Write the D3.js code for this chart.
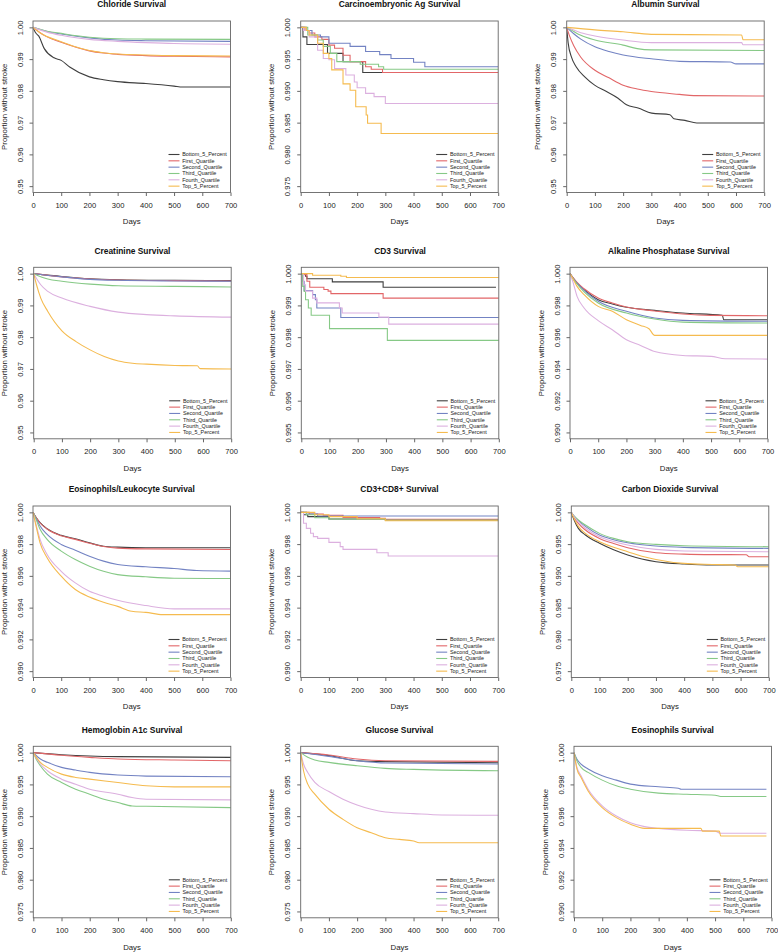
<!DOCTYPE html>
<html><head><meta charset="utf-8">
<script src="https://cdn.jsdelivr.net/npm/d3@7"></script>
<style>body{margin:0;background:#fff}svg{display:block}</style>
</head><body><svg id="c" width="778" height="952"></svg>
<script>
// ---------------- DATA ----------------
const seriesNames = ["Bottom_5_Percent","First_Quartile","Second_Quartile","Third_Quartile","Fourth_Quartile","Top_5_Percent"];
const panelTitles = ["Chloride Survival","Carcinoembryonic Ag Survival","Albumin Survival",
  "Creatinine Survival","CD3 Survival","Alkaline Phosphatase Survival",
  "Eosinophils/Leukocyte Survival","CD3+CD8+ Survival","Carbon Dioxide Survival",
  "Hemoglobin A1c Survival","Glucose Survival","Eosinophils Survival"];
const yDomains = [[0.95,1.00],[0.975,1.000],[0.95,1.00],
  [0.95,1.00],[0.995,1.000],[0.990,1.000],
  [0.990,1.000],[0.990,1.000],[0.975,1.000],
  [0.975,1.000],[0.975,1.000],[0.990,1.000]];
const yTickSteps = [0.01,0.005,0.01, 0.01,0.001,0.002, 0.002,0.002,0.005, 0.005,0.005,0.002];
const yTickDecimals = [2,3,2, 2,3,3, 3,3,3, 3,3,3];
const xTicks = [0,100,200,300,400,500,600,700];
const stepPanels = [false,true,false, false,true,false, false,true,false, false,false,false];

const chloride = [
 [[0,1],[5,0.9990],[10,0.9982],[20,0.9973],[40,0.9933],[75,0.9904],[100,0.9896],[130,0.9875],[200,0.9844],[250,0.9835],[300,0.9829],[400,0.9823],[500,0.9815],[530,0.9812],[700,0.9812]],
 [[0,1],[10,0.9993],[25,0.9983],[50,0.9970],[100,0.9953],[150,0.9938],[200,0.9926],[250,0.9919],[300,0.9915],[400,0.9911],[500,0.9909],[700,0.9907]],
 [[0,1],[25,0.9993],[50,0.9987],[100,0.9979],[200,0.9967],[300,0.9960],[400,0.9958],[700,0.9956]],
 [[0,1],[25,0.9994],[50,0.9988],[100,0.9981],[200,0.9969],[300,0.9964],[400,0.9963],[700,0.9962]],
 [[0,1],[25,0.9992],[50,0.9985],[100,0.9975],[200,0.9962],[300,0.9956],[400,0.9952],[500,0.9949],[700,0.9947]],
 [[0,1],[10,0.9993],[25,0.9983],[50,0.9971],[100,0.9955],[150,0.9939],[200,0.9927],[250,0.9920],[300,0.9916],[400,0.9913],[500,0.9911],[700,0.9910]]
];
const cea = [
 [[0,1],[8,0.9985],[22,0.9973],[95,0.9959],[150,0.9946],[220,0.9929],[700,0.9929]],
 [[0,1],[15,0.9995],[30,0.9991],[50,0.9985],[75,0.9981],[100,0.9972],[120,0.9967],[150,0.9956],[175,0.9946],[230,0.9938],[250,0.9934],[290,0.9929],[700,0.9929]],
 [[0,1],[20,0.9995],[40,0.9988],[70,0.9985],[100,0.9975],[175,0.9970],[230,0.9962],[280,0.9957],[320,0.9951],[400,0.9945],[440,0.9938],[700,0.9938]],
 [[0,1],[25,0.9988],[60,0.9980],[80,0.9970],[105,0.9959],[128,0.9946],[211,0.9942],[276,0.9938],[294,0.9934],[700,0.9934]],
 [[0,1],[10,0.9995],[30,0.9985],[60,0.9964],[80,0.9951],[100,0.9949],[120,0.9935],[160,0.9925],[190,0.9914],[200,0.9905],[230,0.9896],[260,0.9891],[300,0.9880],[700,0.9880]],
 [[0,1],[20,0.9995],[30,0.9988],[60,0.9975],[80,0.9959],[100,0.9951],[110,0.9933],[150,0.9911],[175,0.9901],[195,0.9875],[232,0.9862],[237,0.9849],[285,0.9833],[700,0.9833]]
];
const albumin = [
 [[0,1],[5,0.9952],[17,0.9906],[34,0.9875],[64,0.9844],[99,0.9818],[141,0.9798],[182,0.9777],[212,0.9756],[253,0.9746],[301,0.9730],[366,0.9725],[380,0.9712],[419,0.9707],[461,0.9699],[700,0.9699]],
 [[0,1],[10,0.9973],[25,0.9942],[50,0.9906],[100,0.9865],[150,0.9841],[200,0.9818],[250,0.9806],[300,0.9798],[400,0.9789],[450,0.9785],[700,0.9784]],
 [[0,1],[25,0.9980],[50,0.9963],[100,0.9939],[150,0.9924],[200,0.9913],[300,0.9901],[400,0.9893],[580,0.9891],[600,0.9885],[700,0.9885]],
 [[0,1],[25,0.9987],[50,0.9975],[100,0.9960],[200,0.9944],[250,0.9933],[300,0.9929],[700,0.9927]],
 [[0,1],[50,0.9983],[100,0.9973],[200,0.9960],[300,0.9952],[620,0.9952],[625,0.9945],[700,0.9945]],
 [[0,1],[100,0.9992],[200,0.9986],[300,0.9978],[620,0.9976],[625,0.9961],[700,0.9961]]
];
const creatinine = [
 [[0,1],[100,0.9991],[200,0.9984],[300,0.9981],[500,0.9979],[700,0.9978]],
 [[0,1],[100,0.9990],[200,0.9983],[300,0.9980],[500,0.9978],[700,0.9977]],
 [[0,1],[100,0.9990],[200,0.9982],[300,0.9979],[500,0.9977],[700,0.9976]],
 [[0,1],[50,0.9983],[100,0.9976],[200,0.9967],[300,0.9962],[500,0.9960],[700,0.9958]],
 [[0,1],[10,0.9985],[25,0.9965],[50,0.9944],[100,0.9923],[200,0.9897],[300,0.9879],[400,0.9871],[500,0.9867],[700,0.9863]],
 [[0,1],[10,0.9965],[25,0.9923],[50,0.9881],[100,0.9820],[150,0.9786],[200,0.9760],[250,0.9739],[300,0.9725],[350,0.9718],[400,0.9715],[500,0.9711],[580,0.9710],[590,0.9701],[700,0.9700]]
];
const cd3 = [
 [[0,1],[15,0.99992],[20,0.99984],[110,0.99974],[290,0.99957],[690,0.99957]],
 [[0,1],[10,0.99997],[20,0.99976],[30,0.99957],[80,0.99950],[95,0.99945],[105,0.99937],[290,0.99923],[700,0.99923]],
 [[0,1],[5,0.99976],[10,0.99947],[40,0.99934],[50,0.99918],[55,0.99892],[140,0.99862],[700,0.99862]],
 [[0,1],[5,0.99960],[10,0.99944],[15,0.99918],[25,0.99892],[35,0.99869],[100,0.99827],[305,0.99790],[700,0.99790]],
 [[0,1],[8,0.99965],[15,0.99945],[40,0.99923],[55,0.99908],[135,0.99892],[145,0.99876],[275,0.99863],[310,0.99841],[700,0.99841]],
 [[0,1],[40,0.99995],[140,0.99992],[160,0.99988],[700,0.99988]]
];
const alkPhos = [
 [[0,1],[10,0.99975],[25,0.99941],[50,0.99899],[100,0.99836],[150,0.99809],[200,0.99788],[300,0.99769],[400,0.99752],[540,0.99737],[545,0.99710],[700,0.99710]],
 [[0,1],[10,0.99977],[25,0.99945],[50,0.99905],[100,0.99847],[150,0.99815],[200,0.99790],[300,0.99765],[400,0.99746],[500,0.99737],[700,0.99735]],
 [[0,1],[10,0.99972],[25,0.99940],[50,0.99895],[100,0.99826],[200,0.99763],[300,0.99721],[400,0.99706],[700,0.99700]],
 [[0,1],[10,0.99970],[25,0.99935],[50,0.99885],[100,0.99815],[200,0.99752],[300,0.99714],[400,0.99695],[700,0.99689]],
 [[0,1],[10,0.99950],[25,0.99857],[50,0.99784],[100,0.99704],[150,0.99647],[200,0.99584],[250,0.99548],[300,0.99510],[400,0.99485],[500,0.99479],[550,0.99464],[700,0.99462]],
 [[0,1],[10,0.99970],[25,0.99920],[50,0.99868],[100,0.99794],[150,0.99763],[200,0.99710],[250,0.99674],[280,0.99653],[300,0.99611],[700,0.99611]]
];
const eosLeuk = [
 [[0,1],[10,0.99970],[25,0.99935],[50,0.99897],[100,0.99855],[150,0.99834],[200,0.99808],[250,0.99787],[300,0.99781],[400,0.99777],[700,0.99777]],
 [[0,1],[10,0.99970],[25,0.99933],[50,0.99895],[100,0.99852],[150,0.99830],[200,0.99805],[250,0.99785],[300,0.99775],[400,0.99770],[700,0.99766]],
 [[0,1],[10,0.99965],[25,0.99914],[50,0.99861],[100,0.99798],[150,0.99762],[200,0.99724],[250,0.99693],[300,0.99672],[400,0.99657],[500,0.99646],[580,0.99634],[700,0.99630]],
 [[0,1],[10,0.99960],[25,0.99893],[50,0.99830],[100,0.99756],[150,0.99703],[200,0.99661],[250,0.99629],[300,0.99608],[400,0.99594],[500,0.99585],[700,0.99583]],
 [[0,1],[10,0.99930],[25,0.99830],[50,0.99735],[100,0.99629],[150,0.99556],[200,0.99503],[250,0.99472],[300,0.99446],[400,0.99413],[500,0.99392],[700,0.99392]],
 [[0,1],[10,0.99920],[25,0.99808],[50,0.99714],[100,0.99598],[150,0.99514],[200,0.99467],[250,0.99434],[300,0.99408],[350,0.99377],[400,0.99370],[460,0.99356],[700,0.99356]]
];
const cd3cd8 = [
 [[0,1],[10,0.99985],[25,0.99973],[100,0.99958],[300,0.99952],[700,0.99952]],
 [[0,1],[30,0.99990],[80,0.99982],[150,0.99968],[280,0.99962],[300,0.99956],[700,0.99956]],
 [[0,1],[20,0.99990],[60,0.99977],[700,0.99977]],
 [[0,1],[20,0.99985],[50,0.99966],[100,0.99958],[300,0.99952],[700,0.99952]],
 [[0,1],[10,0.99931],[20,0.99899],[35,0.99868],[45,0.99847],[60,0.99836],[100,0.99811],[140,0.99784],[150,0.99767],[270,0.99746],[310,0.99725],[700,0.99725]],
 [[0,1],[50,0.99985],[100,0.99973],[200,0.99960],[300,0.99947],[700,0.99947]]
];
const co2 = [
 [[0,1],[10,0.99880],[25,0.99748],[50,0.99643],[100,0.99512],[150,0.99410],[200,0.99328],[250,0.99265],[300,0.99223],[400,0.99186],[500,0.99170],[700,0.99170]],
 [[0,1],[10,0.99920],[25,0.99827],[50,0.99722],[100,0.99590],[150,0.99510],[200,0.99443],[300,0.99364],[400,0.99343],[500,0.99335],[620,0.99333],[630,0.99301],[700,0.99301]],
 [[0,1],[10,0.99940],[25,0.99870],[50,0.99780],[100,0.99643],[150,0.99570],[200,0.99522],[300,0.99470],[400,0.99449],[700,0.99433]],
 [[0,1],[10,0.99940],[25,0.99880],[50,0.99800],[100,0.99669],[150,0.99590],[200,0.99538],[300,0.99496],[400,0.99475],[700,0.99459]],
 [[0,1],[10,0.99930],[25,0.99850],[50,0.99750],[100,0.99617],[150,0.99540],[200,0.99485],[300,0.99417],[400,0.99391],[700,0.99380]],
 [[0,1],[10,0.99900],[25,0.99780],[50,0.99670],[100,0.99538],[150,0.99450],[200,0.99380],[250,0.99310],[300,0.99259],[400,0.99196],[500,0.99180],[580,0.99170],[590,0.99144],[700,0.99144]]
];
const hba1c = [
 [[0,1],[100,0.99968],[200,0.99947],[300,0.99937],[700,0.99926]],
 [[0,1],[100,0.99958],[200,0.99926],[300,0.99900],[500,0.99884],[700,0.99873]],
 [[0,1],[25,0.99900],[50,0.99847],[100,0.99768],[150,0.99726],[200,0.99689],[300,0.99647],[400,0.99631],[700,0.99620]],
 [[0,1],[10,0.99900],[25,0.99794],[50,0.99662],[100,0.99531],[150,0.99425],[200,0.99346],[250,0.99267],[300,0.99214],[350,0.99161],[400,0.99156],[700,0.99135]],
 [[0,1],[10,0.99920],[25,0.99821],[50,0.99715],[100,0.99583],[150,0.99504],[200,0.99425],[300,0.99346],[350,0.99293],[400,0.99267],[700,0.99256]],
 [[0,1],[10,0.99930],[25,0.99847],[50,0.99768],[100,0.99662],[150,0.99610],[200,0.99583],[300,0.99531],[400,0.99478],[500,0.99462],[700,0.99462]]
];
const glucose = [
 [[0,1],[100,0.99953],[200,0.99873],[300,0.99858],[700,0.99842]],
 [[0,1],[100,0.99963],[200,0.99900],[300,0.99873],[700,0.99863]],
 [[0,1],[100,0.99942],[200,0.99873],[300,0.99837],[700,0.99821]],
 [[0,1],[25,0.99926],[50,0.99884],[100,0.99847],[200,0.99794],[300,0.99752],[400,0.99736],[500,0.99725],[700,0.99715]],
 [[0,1],[10,0.99821],[25,0.99689],[50,0.99531],[100,0.99388],[150,0.99267],[200,0.99177],[250,0.99109],[300,0.99066],[400,0.99040],[500,0.99019],[700,0.99014]],
 [[0,1],[10,0.99715],[25,0.99504],[50,0.99346],[100,0.99109],[150,0.98950],[200,0.98819],[250,0.98740],[300,0.98660],[350,0.98634],[400,0.98608],[420,0.98581],[700,0.98581]]
];
const eosinophils = [
 [],
 [],
 [[0,1],[10,0.99960],[25,0.99928],[50,0.99897],[100,0.99854],[150,0.99827],[200,0.99802],[300,0.99785],[370,0.99776],[380,0.99770],[682,0.99770]],
 [[0,1],[10,0.99950],[25,0.99907],[50,0.99876],[100,0.99827],[150,0.99791],[200,0.99770],[300,0.99745],[400,0.99738],[500,0.99732],[520,0.99724],[682,0.99724]],
 [[0,1],[10,0.99910],[25,0.99854],[50,0.99770],[100,0.99665],[150,0.99601],[200,0.99559],[250,0.99534],[300,0.99523],[400,0.99511],[500,0.99506],[520,0.99492],[682,0.99492]],
 [[0,1],[10,0.99900],[25,0.99844],[50,0.99759],[100,0.99654],[150,0.99591],[200,0.99549],[250,0.99523],[300,0.99523],[450,0.99523],[455,0.99506],[515,0.99506],[520,0.99475],[682,0.99475]]
];
const panelData = [chloride, cea, albumin, creatinine, cd3, alkPhos, eosLeuk, cd3cd8, co2, hba1c, glucose, eosinophils];

// ---------------- STYLE / LAYOUT ----------------
const colors = ["#3f3f3f","#e26668","#7383c3","#86c986","#dcb0df","#f5bb4f"];
const plotLefts = [33,300.7,566.7, 33.7,301.3,570, 33,300.7,571.3, 33.3,300.7,574];
const rowTops = [21,267.3,506,746.3];
const PW = 197.5, PH = 171.5;
const FONT = "'Liberation Sans', Arial, Helvetica, sans-serif";

const svg = d3.select("#c");
svg.append("rect").attr("width",778).attr("height",952).attr("fill","#fff");

panelData.forEach((series, p) => {
  const left = plotLefts[p], top = rowTops[Math.floor(p/3)];
  const right = left + PW, bottom = top + PH;
  const [y0, y1] = yDomains[p];
  const pad = (y1 - y0) * 0.04;
  const x = d3.scaleLinear().domain([0,700]).range([left, right]);
  const y = d3.scaleLinear().domain([y0 - pad, y1 + pad]).range([bottom, top]);
  const step = yTickSteps[p];
  const nT = Math.round((y1 - y0) / step);
  const yTicks = d3.range(nT + 1).map(i => +(y0 + i*step).toFixed(6));
  const g = svg.append("g");

  const cid = "clip" + p;
  g.append("clipPath").attr("id", cid).append("rect")
    .attr("x", left).attr("y", top).attr("width", PW).attr("height", PH);

  const line = d3.line().x(d => x(d[0])).y(d => y(d[1]))
    .curve(stepPanels[p] ? d3.curveStepAfter : d3.curveMonotoneX);
  const lg = g.append("g").attr("clip-path", `url(#${cid})`);
  series.forEach((s, i) => {
    if (!s.length) return;
    lg.append("path").attr("d", line(s)).attr("fill","none")
      .attr("stroke", colors[i]).attr("stroke-width", 1.1);
  });

  g.append("rect").attr("x", left).attr("y", top).attr("width", PW).attr("height", PH)
    .attr("fill","none").attr("stroke","#666").attr("stroke-width",0.9);

  const xa = g.append("g").attr("transform", `translate(0,${bottom})`)
    .call(d3.axisBottom(x).tickValues(xTicks).tickSize(3.5).tickPadding(2).tickFormat(d3.format("d")));
  xa.select(".domain").remove();
  xa.selectAll("line").attr("stroke","#666");
  xa.selectAll("text").attr("font-family", FONT).attr("font-size", 7.6).attr("fill","#222")
    .attr("y", 13).attr("dy","0.35em");

  const ya = g.append("g").attr("transform", `translate(${left},0)`)
    .call(d3.axisLeft(y).tickValues(yTicks).tickSize(3.5).tickFormat(d3.format("." + yTickDecimals[p] + "f")));
  ya.select(".domain").remove();
  ya.selectAll("line").attr("stroke","#666");
  ya.selectAll("text").attr("font-family", FONT).attr("font-size", 7.6).attr("fill","#222")
    .attr("x", 0).attr("y", -13).attr("dy","0.35em")
    .attr("transform","rotate(-90)").attr("text-anchor","middle");

  g.append("text").attr("x", (left+right)/2).attr("y", top - 16.5).attr("dy","0.35em")
    .attr("text-anchor","middle").attr("font-family", FONT).attr("font-weight","bold")
    .attr("font-size", 8.4).attr("fill","#111").text(panelTitles[p]);

  g.append("text").attr("x", (left+right)/2).attr("y", bottom + 29).attr("dy","0.35em")
    .attr("text-anchor","middle").attr("font-family", FONT).attr("font-size", 7.8)
    .attr("fill","#222").text("Days");
  g.append("text").attr("transform", `translate(${left-29},${(top+bottom)/2}) rotate(-90)`)
    .attr("dy","0.35em").attr("text-anchor","middle").attr("font-family", FONT)
    .attr("font-size", 7.8).attr("fill","#222").text("Proportion without stroke");

  const lb = y(y0);
  seriesNames.forEach((n, i) => {
    const ly = lb - (5 - i) * 6.33;
    g.append("line").attr("x1", right - 62).attr("x2", right - 51).attr("y1", ly).attr("y2", ly)
      .attr("stroke", colors[i]).attr("stroke-width", 1.1);
    g.append("text").attr("x", right - 48.3).attr("y", ly).attr("dy","0.35em")
      .attr("font-family", FONT).attr("font-size", 5.4).attr("fill","#222").text(n);
  });
});
</script></body></html>
